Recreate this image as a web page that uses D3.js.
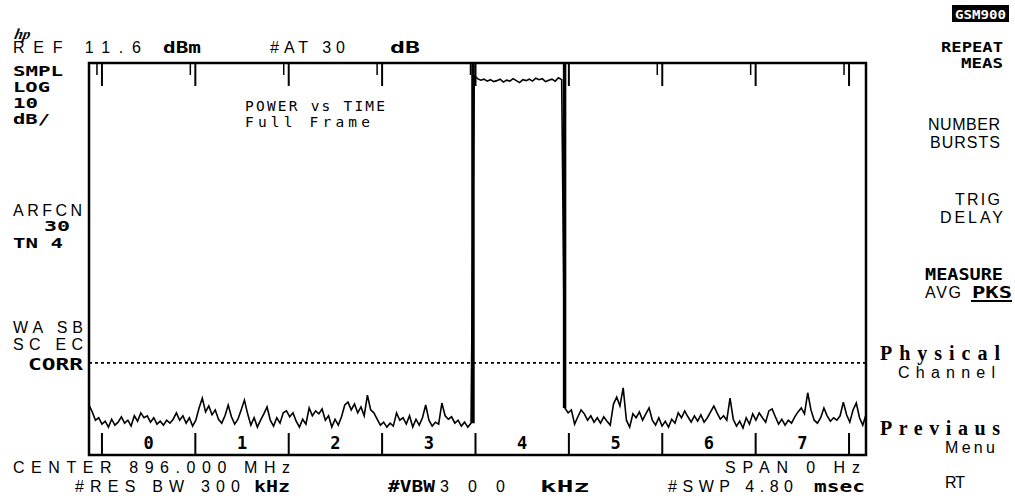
<!DOCTYPE html>
<html>
<head>
<meta charset="UTF-8">
<style>
  body { margin: 0; background: #fff; }
</style>
</head>
<body>
<script src="https://d3js.org/d3.v7.min.js"></script>
<div id="chart"></div>
<script>
// analyzer settings
const refLevel = 11.6;      // dBm at top graticule
const dbPerDiv = 10;
const divisions = 8;
const sweepTime = 4.80;     // ms
const sweepStep = 0.02;     // ms between trace points
const slotStart = 0.080;    // ms, start of timeslot 0
const slotLength = 0.5769;  // ms
const slotNames = ["0", "1", "2", "3", "4", "5", "6", "7"];
const limitLine = -49.6;    // dBm, dotted line

// trace, dBm
const noiseBefore = [
  -58.2, -59.6, -61.3, -60.8, -62.1, -61.5, -62.7, -61.1, -62.3, -61.7,
  -60.6, -61.9, -61.3, -62.5, -60.4, -61.5, -59.8, -60.8, -60.4, -61.7,
  -60.8, -62.1, -61.5, -62.3, -61.3, -61.9, -61.1, -59.8, -61.3, -60.4,
  -61.9, -60.8, -62.5, -61.3, -58.8, -56.8, -59.6, -58.4, -60.2, -59.2,
  -61.1, -61.9, -60.4, -58.2, -60.6, -62.1, -61.1, -59.2, -57.2, -60.0,
  -62.3, -60.8, -62.7, -61.3, -60.0, -58.6, -61.3, -62.5, -60.8, -61.9,
  -59.8, -59.4, -60.6, -59.8, -61.5, -62.7, -61.1, -62.1, -58.8, -60.4,
  -59.4, -60.0, -59.0, -61.3, -60.4, -62.7, -61.1, -62.3, -60.6, -58.2,
  -57.6, -59.2, -58.0, -59.8, -58.6, -60.4, -56.2, -59.2, -59.8, -61.1,
  -62.3, -61.7, -62.7, -61.9, -62.5, -59.8, -61.3, -60.8, -62.1, -60.4,
  -62.7, -61.1, -62.3, -60.8, -58.2, -61.3, -62.5, -61.7, -62.1, -57.8,
  -60.4, -61.1, -60.6, -61.9, -61.3, -62.5, -61.7, -62.7, -61.9
];
const burstTop = [
  9.0, 8.4, 8.1, 8.3, 7.9, 8.2, 7.8, 8.0, 8.3, 7.7,
  8.1, 7.9, 8.4, 8.0, 7.6, 8.2, 8.0, 8.3, 7.9, 8.5,
  8.2, 8.4, 7.8, 8.1, 8.3, 7.9, 8.6, 8.2
];
const noiseAfter = [
  -58.8, -59.8, -59.2, -62.1, -60.6, -59.2, -60.0, -61.3, -60.4, -61.7,
  -60.8, -61.9, -60.6, -61.5, -62.3, -58.0, -56.6, -58.4, -54.7, -61.3,
  -62.7, -60.0, -60.8, -59.6, -61.3, -60.0, -58.8, -61.3, -62.3, -60.8,
  -62.5, -61.5, -62.7, -61.1, -61.9, -59.8, -60.8, -59.4, -60.6, -61.7,
  -60.4, -61.5, -60.2, -61.7, -60.8, -59.6, -58.4, -59.8, -61.1, -60.4,
  -61.3, -56.8, -61.1, -62.5, -61.5, -62.9, -60.8, -62.1, -60.0, -61.3,
  -59.8, -60.8, -61.7, -59.4, -59.0, -60.6, -62.1, -61.1, -62.3, -61.3,
  -61.9, -60.6, -59.6, -58.8, -60.0, -55.7, -59.2, -61.3, -61.9, -60.8,
  -58.8, -60.4, -61.5, -60.8, -61.3, -60.4, -57.6, -60.2, -61.7, -59.2,
  -57.8, -60.8, -62.3, -60.2
];

const W = 1015, H = 499;
const plot = { left: 89, right: 866, top: 63, bottom: 455 };

const svg = d3.select("#chart").append("svg")
  .attr("width", W).attr("height", H)
  .style("display", "block");

const x = d3.scaleLinear().domain([0, sweepTime]).range([plot.left, plot.right]);
const y = d3.scaleLinear()
  .domain([refLevel - dbPerDiv * divisions, refLevel])
  .range([plot.bottom, plot.top]);

const trace = noiseBefore.concat(burstTop, noiseAfter)
  .map((v, i) => [i * sweepStep, v]);

// dotted limit line
svg.append("line")
  .attr("x1", plot.left).attr("x2", plot.right)
  .attr("y1", y(limitLine)).attr("y2", y(limitLine))
  .attr("stroke", "#000").attr("stroke-width", 1.6)
  .attr("stroke-dasharray", "3,3");

// timeslot markers
const bounds = d3.range(slotNames.length + 1).map(k => slotStart + k * slotLength);
const ticks = svg.append("g").attr("stroke", "#000").attr("stroke-width", 2);
bounds.forEach(t => {
  ticks.append("line").attr("x1", x(t)).attr("x2", x(t))
    .attr("y1", plot.top).attr("y2", plot.top + 23);
  ticks.append("line").attr("x1", x(t) - 5).attr("x2", x(t) - 5)
    .attr("y1", plot.top).attr("y2", plot.top + 12).attr("stroke-width", 1.5);
  ticks.append("line").attr("x1", x(t)).attr("x2", x(t))
    .attr("y1", plot.bottom - 22).attr("y2", plot.bottom);
});

svg.append("g").selectAll("text")
  .data(slotNames)
  .join("text")
  .attr("x", (d, i) => x(slotStart + (i + 0.5) * slotLength))
  .attr("y", plot.bottom - 6)
  .attr("text-anchor", "middle")
  .style("font-family", "DejaVu Sans Mono")
  .style("font-weight", "bold")
  .style("font-size", "17px")
  .text(d => d);

// trace
svg.append("path")
  .datum(trace)
  .attr("fill", "none")
  .attr("stroke", "#000")
  .attr("stroke-width", 1.6)
  .attr("stroke-linejoin", "miter")
  .attr("d", d3.line().x(d => x(d[0])).y(d => y(d[1])));

// burst edges drawn heavier, as on the screen
const riseT = (noiseBefore.length - 0.4) * sweepStep;
const fallT = (noiseBefore.length + burstTop.length - 0.1) * sweepStep;
[[riseT, noiseBefore[noiseBefore.length - 1]], [fallT, noiseAfter[0]]].forEach(e => {
  svg.append("line")
    .attr("x1", x(e[0])).attr("x2", x(e[0]))
    .attr("y1", y(refLevel)).attr("y2", y(e[1]))
    .attr("stroke", "#000").attr("stroke-width", 3.5);
});

// frame
svg.append("rect")
  .attr("x", plot.left).attr("y", plot.top)
  .attr("width", plot.right - plot.left).attr("height", plot.bottom - plot.top)
  .attr("fill", "none").attr("stroke", "#000").attr("stroke-width", 2.5);

// annotation text
const fonts = {
  wide: { family: "Liberation Sans", weight: "normal", size: 16, adjust: "spacing" },
  bold: { family: "DejaVu Sans Mono", weight: "bold", size: 15, adjust: "spacingAndGlyphs" },
  stack: { family: "DejaVu Sans Mono", weight: "bold", size: 14, adjust: "spacingAndGlyphs" },
  mono: { family: "DejaVu Sans Mono", weight: "normal", size: 14.5, adjust: "spacing" },
  serif: { family: "Liberation Serif", weight: "bold", size: 20, adjust: "spacing" }
};
function label(str, x0, y0, width, kind, fill) {
  const f = fonts[kind];
  return svg.append("text")
    .attr("x", x0).attr("y", y0)
    .attr("textLength", width).attr("lengthAdjust", f.adjust)
    .style("font-family", f.family)
    .style("font-weight", f.weight)
    .style("font-size", f.size + "px")
    .style("fill", fill || "#000")
    .text(str);
}

// hp logo
svg.append("text").attr("x", 15).attr("y", 39)
  .attr("transform", "skewX(-12)")
  .attr("dx", 7)
  .style("font-family", "Liberation Serif").style("font-style", "italic")
  .style("font-weight", "bold").style("font-size", "15px").text("hp");

label("REF 11.6", 13, 53, 128, "wide");
label("dBm", 163, 53, 38, "bold");
label("#AT 30", 270, 53, 75, "wide");
label("dB", 390, 53, 30, "bold");

label("SMPL", 13, 76, 50, "stack");
label("LOG", 13, 92, 37, "stack");
label("10", 13, 108, 25, "stack");
label("dB/", 13, 124, 37, "stack");
label("ARFCN", 13, 216, 69, "wide");
label("30", 44, 231, 26, "stack");
label("TN 4", 13, 248, 50, "stack");
label("WA SB", 13, 333, 70, "wide");
label("SC EC", 13, 350, 70, "wide");
label("CORR", 28, 370, 55, "bold");

label("POWER vs TIME", 245, 111, 140, "mono");
label("Full Frame", 245, 127, 125, "mono");

// softkeys
svg.append("rect").attr("x", 952).attr("y", 5).attr("width", 57).attr("height", 17).attr("fill", "#000");
label("GSM900", 955, 19, 51, "bold", "#fff").style("font-size", "13px");
label("REPEAT", 941, 52, 62, "stack");
label("MEAS", 961, 68, 42, "stack");
label("NUMBER", 928, 130, 72, "wide");
label("BURSTS", 930, 148, 70, "wide");
label("TRIG", 955, 205, 45, "wide");
label("DELAY", 940, 223, 63, "wide");
label("MEASURE", 925, 280, 78, "bold");
label("AVG", 925, 298, 36, "wide");
label("PKS", 972, 298, 40, "bold");
svg.append("line").attr("x1", 971).attr("x2", 1012).attr("y1", 301).attr("y2", 301)
  .attr("stroke", "#000").attr("stroke-width", 2);
label("Physical", 880, 360, 120, "serif");
label("Channel", 898, 378, 97, "wide");
label("Previaus", 880, 435, 120, "serif");
label("Menu", 945, 453, 50, "wide");
label("RT", 945, 488, 20, "wide");

label("CENTER 896.000 MHz", 13, 473, 277, "wide");
label("#RES BW 300", 75, 492, 165, "wide");
label("kHz", 254, 492, 36, "bold");
label("#VBW", 388, 492, 47, "bold");
label("3 0 0", 440, 492, 65, "wide");
label("kHz", 540, 492, 50, "bold");
label("SPAN 0 Hz", 725, 473, 135, "wide");
label("#SWP 4.80", 668, 492, 125, "wide");
label("msec", 814, 492, 51, "bold");
</script>
</body>
</html>
